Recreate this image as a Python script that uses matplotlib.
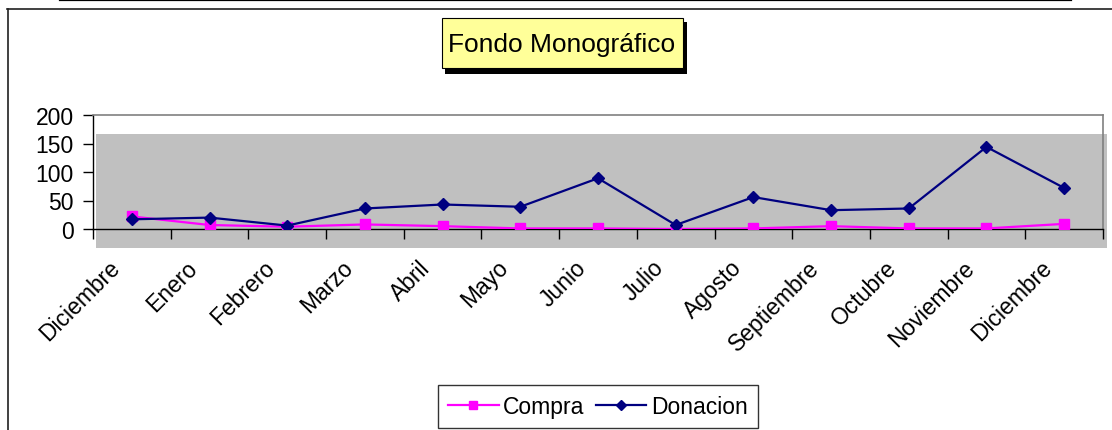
import numpy as np
import matplotlib
matplotlib.use("Agg")
import matplotlib.pyplot as plt
from matplotlib.patches import Rectangle
from matplotlib.lines import Line2D

plt.rcParams["font.family"] = ["Liberation Sans", "DejaVu Sans"]

months = ["Diciembre", "Enero", "Febrero", "Marzo", "Abril", "Mayo", "Junio", "Julio",
          "Agosto", "Septiembre", "Octubre", "Noviembre", "Diciembre"]
compra = [22, 7, 4, 8, 5, 1, 1, 0, 1, 5, 1, 1, 9]
donacion = [17, 20, 6, 36, 43, 39, 89, 7, 56, 33, 36, 144, 72]

W, H = 1112, 431
fig = plt.figure(figsize=(W / 100, H / 100), dpi=100)

def fx(px):
    return px / W

def fy(py):
    return 1 - py / H

# page decorations: top rule + chart frame
fig.add_artist(Line2D([fx(60), fx(1071)], [fy(1), fy(1)], color="black", lw=1.6))
fig.add_artist(Line2D([fx(7), fx(1112)], [fy(10), fy(10)], color="#202020", lw=1.2))
fig.add_artist(Line2D([fx(7.5), fx(7.5)], [fy(10), fy(431)], color="#202020", lw=1.2))

# shifted grey plot area fill
fig.add_artist(Rectangle((fx(96), fy(249)), fx(1107 - 96), (249 - 135) / H,
                         transform=fig.transFigure, facecolor="#c0c0c0", edgecolor="none", zorder=-1))

ax = fig.add_axes([fx(93), fy(230), fx(1103 - 93), (230 - 116) / H])
ax.set_facecolor("none")
x = np.arange(len(months)) + 0.5
ax.plot(x, compra, color="#ff00ff", lw=1.6, marker="s", ms=7.5, mec="#ff00ff", label="Compra", zorder=3)
ax.plot(x, donacion, color="#000080", lw=1.6, marker="D", ms=6.3, label="Donacion", zorder=4)

ax.set_xlim(0, len(months))
ax.set_ylim(0, 200)
ax.set_yticks([0, 50, 100, 150, 200])
ax.set_xticks(np.arange(len(months) + 1))
ax.set_xticklabels([])
# month labels sit a little left of each category centre, as in the original
ax.set_xticks(x - 0.2, minor=True)
ax.set_xticklabels(months, minor=True, rotation=45, ha="right", va="center",
                   rotation_mode="anchor", fontsize=16.5)
ax.tick_params(axis="x", which="minor", length=0, pad=25)
ax.tick_params(axis="x", which="major", length=7, direction="out", width=1)
ax.tick_params(axis="y", length=7, width=1, labelsize=16.5, pad=7)
for s in ["top", "right"]:
    ax.spines[s].set_color("#808080")
    ax.spines[s].set_linewidth(1.2)
for s in ["left", "bottom"]:
    ax.spines[s].set_color("black")
    ax.spines[s].set_linewidth(1.0)

# title box with hard shadow
fig.add_artist(Rectangle((fx(445), fy(75)), fx(687 - 445), (75 - 23) / H, transform=fig.transFigure,
                         facecolor="black", edgecolor="none", zorder=2))
fig.add_artist(Rectangle((fx(442), fy(69)), fx(683 - 442), (69 - 19) / H, transform=fig.transFigure,
                         facecolor="#ffff99", edgecolor="black", lw=0.8, zorder=3))
fig.text(fx(562), fy(45), "Fondo Monográfico", ha="center", va="center", fontsize=19, zorder=4)

leg = fig.legend(loc="center", bbox_to_anchor=(fx(598), fy(407.5)), ncol=2, fontsize=16.5,
                 frameon=True, fancybox=False, shadow=False, handlelength=2.2,
                 handletextpad=0.2, columnspacing=0.5, borderpad=0.45, markerscale=0.75)
leg.get_frame().set_edgecolor("black")
leg.get_frame().set_linewidth(1.0)

fig.savefig("out.png", dpi=100)
